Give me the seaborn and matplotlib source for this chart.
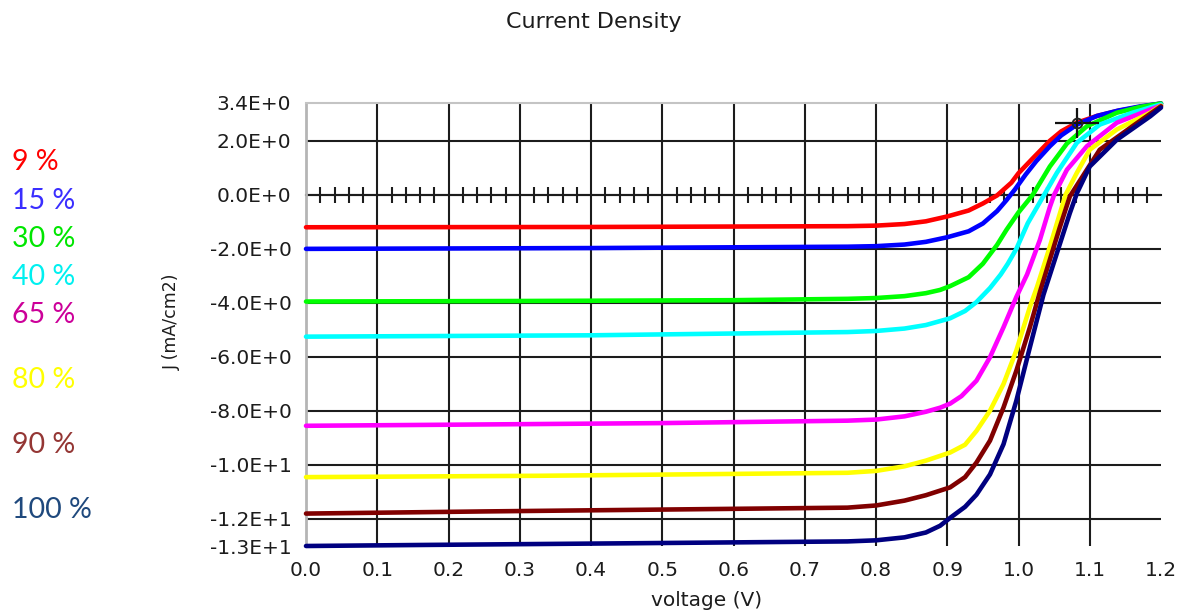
import numpy as np
import pandas as pd
import matplotlib
matplotlib.use("Agg")
import matplotlib.pyplot as plt
import seaborn as sns

# Illumination levels and their colours
levels = ["9 %", "15 %", "30 %", "40 %", "65 %", "80 %", "90 %", "100 %"]
line_colors = ["#ff0000", "#0000ff", "#00ff00", "#00ffff",
               "#ff00ff", "#ffff00", "#800000", "#000080"]
label_colors = ["#ff0000", "#3a2eff", "#00e600", "#00f0f0",
                "#cc0099", "#ffff00", "#943634", "#1f497d"]

# J-V curves: voltage (V) and current density (mA/cm2)
v_9 = [0.0, 0.4, 0.76, 0.80, 0.84, 0.87, 0.90, 0.93, 0.95, 0.97, 0.99, 1.00,
       1.02, 1.044, 1.06, 1.082, 1.11, 1.138, 1.17, 1.2]
j_9 = [-1.20, -1.19, -1.16, -1.14, -1.08, -0.98, -0.80, -0.58, -0.32, -0.02,
       0.45, 0.80, 1.35, 2.00, 2.35, 2.67, 2.92, 3.10, 3.25, 3.38]

v_15 = [0.0, 0.4, 0.76, 0.80, 0.84, 0.87, 0.90, 0.93, 0.95, 0.97, 0.983,
        0.995, 1.01, 1.025, 1.044, 1.06, 1.082, 1.11, 1.14, 1.17, 1.2]
j_15 = [-2.00, -1.97, -1.92, -1.90, -1.84, -1.74, -1.57, -1.35, -1.06, -0.60,
        -0.20, 0.20, 0.75, 1.25, 1.80, 2.20, 2.60, 2.92, 3.12, 3.27, 3.38]

v_30 = [0.0, 0.3, 0.6, 0.76, 0.80, 0.84, 0.87, 0.89, 0.904, 0.93, 0.95, 0.97,
        0.983, 1.0, 1.02, 1.044, 1.068, 1.096, 1.138, 1.17, 1.2]
j_30 = [-3.95, -3.93, -3.90, -3.85, -3.82, -3.75, -3.64, -3.52, -3.38, -3.05,
        -2.55, -1.85, -1.30, -0.65, 0.00, 1.05, 1.90, 2.54, 3.04, 3.25, 3.38]

v_40 = [0.0, 0.4, 0.76, 0.80, 0.84, 0.87, 0.904, 0.925, 0.941, 0.96, 0.975,
        0.985, 0.997, 1.013, 1.036, 1.054, 1.082, 1.114, 1.16, 1.2]
j_40 = [-5.25, -5.20, -5.08, -5.04, -4.95, -4.82, -4.57, -4.30, -3.97, -3.45,
        -2.95, -2.55, -2.00, -1.05, 0.00, 0.82, 1.93, 2.60, 3.04, 3.35]

v_65 = [0.0, 0.5, 0.76, 0.80, 0.84, 0.87, 0.89, 0.904, 0.92, 0.941, 0.96,
        0.979, 0.997, 1.012, 1.03, 1.044, 1.05, 1.068, 1.096, 1.138, 1.185, 1.2]
j_65 = [-8.55, -8.45, -8.36, -8.32, -8.20, -8.03, -7.88, -7.73, -7.45, -6.88,
        -6.01, -4.90, -3.78, -2.95, -1.67, -0.45, 0.00, 0.93, 1.80, 2.67, 3.16,
        3.30]

v_80 = [0.0, 0.33, 0.76, 0.80, 0.84, 0.87, 0.904, 0.925, 0.941, 0.96, 0.979,
        0.997, 1.016, 1.026, 1.044, 1.066, 1.082, 1.1, 1.138, 1.185, 1.2]
j_80 = [-10.45, -10.40, -10.29, -10.22, -10.05, -9.84, -9.54, -9.25, -8.74,
        -7.99, -7.00, -5.76, -4.15, -3.41, -1.92, 0.00, 0.82, 1.67, 2.42, 3.04,
        3.30]

v_90 = [0.0, 0.25, 0.76, 0.80, 0.84, 0.87, 0.904, 0.925, 0.941, 0.96, 0.979,
        0.997, 1.016, 1.03, 1.044, 1.058, 1.072, 1.096, 1.114, 1.16, 1.2]
j_90 = [-11.80, -11.72, -11.58, -11.50, -11.32, -11.12, -10.83, -10.45, -9.91,
        -9.10, -7.87, -6.51, -4.90, -3.60, -2.40, -1.20, -0.06, 0.93, 1.67,
        2.54, 3.28]

v_100 = [0.0, 0.17, 0.45, 0.76, 0.80, 0.84, 0.87, 0.89, 0.904, 0.925, 0.941,
         0.96, 0.979, 0.997, 1.016, 1.035, 1.054, 1.072, 1.082, 1.1, 1.138,
         1.185, 1.2]
j_100 = [-13.00, -12.96, -12.90, -12.83, -12.79, -12.68, -12.50, -12.25,
         -11.96, -11.55, -11.10, -10.35, -9.23, -7.62, -5.64, -3.70, -2.15,
         -0.68, 0.06, 1.05, 2.04, 2.91, 3.23]

voltages = [v_9, v_15, v_30, v_40, v_65, v_80, v_90, v_100]
currents = [j_9, j_15, j_30, j_40, j_65, j_80, j_90, j_100]

# Cursor readout on the 9 % curve
cursor_v = 1.082
cursor_j = 2.67

# Axis ticks
x_ticks = [0.0, 0.1, 0.2, 0.3, 0.4, 0.5, 0.6, 0.7, 0.8, 0.9, 1.0, 1.1, 1.2]
x_tick_labels = ["0.0", "0.1", "0.2", "0.3", "0.4", "0.5", "0.6", "0.7",
                 "0.8", "0.9", "1.0", "1.1", "1.2"]
y_ticks = [3.4, 2.0, 0.0, -2.0, -4.0, -6.0, -8.0, -10.0, -12.0, -13.0]
y_tick_labels = ["3.4E+0", "2.0E+0", "0.0E+0", "-2.0E+0", "-4.0E+0",
                 "-6.0E+0", "-8.0E+0", "-1.0E+1", "-1.2E+1", "-1.3E+1"]

frames = []
for lvl, v, j in zip(levels, voltages, currents):
    frames.append(pd.DataFrame({"voltage": v, "J": j, "level": lvl}))
df = pd.concat(frames, ignore_index=True)

sns.set_style("white")
plt.rcParams["font.family"] = ["DejaVu Sans"]

W, H = 1192, 615
fig = plt.figure(figsize=(W / 100, H / 100), dpi=100)
fig.patch.set_facecolor("white")

# axes box in pixel terms
left, right, top, bottom = 306, 1161, 103, 546
ax = fig.add_axes([left / W, 1 - bottom / H, (right - left) / W, (bottom - top) / H])

ink = "#1c1c1c"

ax.set_xlim(0.0, 1.2)
ax.set_ylim(-13.0, 3.4)
ax.set_axisbelow(True)

sns.lineplot(data=df, x="voltage", y="J", hue="level", hue_order=levels,
             palette=dict(zip(levels, line_colors)), estimator=None,
             sort=False, linewidth=3.3, legend=False, ax=ax, clip_on=False,
             zorder=3)

ax.set_xticks(x_ticks)
ax.set_xticklabels(x_tick_labels)
ax.set_yticks(y_ticks)
ax.set_yticklabels(y_tick_labels)

ax.grid(True, color=ink, linewidth=1.5)
for t, val in zip(ax.xaxis.get_major_ticks(), x_ticks):
    if val in (0.0, 1.2):
        t.gridline.set_visible(False)
for t, val in zip(ax.yaxis.get_major_ticks(), y_ticks):
    if val in (3.4, -13.0):
        t.gridline.set_visible(False)

for side in ("right", "bottom"):
    ax.spines[side].set_visible(False)
ax.spines["left"].set_color("#b5b5b5")
ax.spines["left"].set_linewidth(2.0)
ax.spines["top"].set_color("#c4c4c4")
ax.spines["top"].set_linewidth(1.5)

ax.tick_params(axis="y", direction="out", length=6.5, width=1.4, color="#333333",
               pad=4, labelsize=14.5, labelcolor=ink)
ax.tick_params(axis="x", direction="out", length=5, width=1.4, color="#333333",
               pad=6, labelsize=14.5, labelcolor=ink)

# zero line with fine ticks every 0.02 V
zero_frac = (0 - (-13.0)) / (3.4 - (-13.0))
sec = ax.secondary_xaxis(zero_frac)
fine = [round(x, 2) for x in np.arange(0.02, 1.2, 0.02)
        if abs(round(x * 10) - x * 10) > 1e-6]
sec.set_xticks(fine)
sec.tick_params(axis="x", direction="inout", length=11.5, width=1.5,
                color=ink, labeltop=False, labelbottom=False)
for s in sec.spines.values():
    s.set_color(ink)
    s.set_linewidth(1.5)

# cursor crosshair
ax.plot([cursor_v], [cursor_j], marker="_", markersize=32, markeredgewidth=1.6,
        color="#111111", zorder=5, clip_on=False)
ax.plot([cursor_v], [cursor_j], marker="|", markersize=22, markeredgewidth=1.6,
        color="#111111", zorder=5, clip_on=False)
ax.plot([cursor_v], [cursor_j], marker="o", markersize=7, markeredgewidth=1.4,
        markerfacecolor="none", markeredgecolor="#222222", zorder=6, clip_on=False)

ax.set_xlabel("voltage (V)", fontsize=14.5, color=ink)
ax.xaxis.label.set_va("center")
ax.xaxis.set_label_coords((707 - left) / (right - left), -(601 - bottom) / (bottom - top))
ax.set_ylabel("J (mA/cm2)", fontsize=12.5, color=ink)
ax.yaxis.label.set_va("center")
ax.yaxis.set_label_coords((172 - left) / (right - left), (bottom - 322) / (bottom - top))

fig.text(594 / W, 1 - 22 / H, "Current Density", ha="center", va="center",
         fontsize=16, color=ink)

# level labels at the left margin
label_y_px = [162, 201, 239, 277, 315, 380, 445, 510]
for lvl, col, ypx in zip(levels, label_colors, label_y_px):
    fig.text(12 / W, 1 - ypx / H, lvl, color=col, fontsize=20.5,
             family=["Lato", "DejaVu Sans"], ha="left", va="center")

fig.savefig("out.png", dpi=100, facecolor="white")
